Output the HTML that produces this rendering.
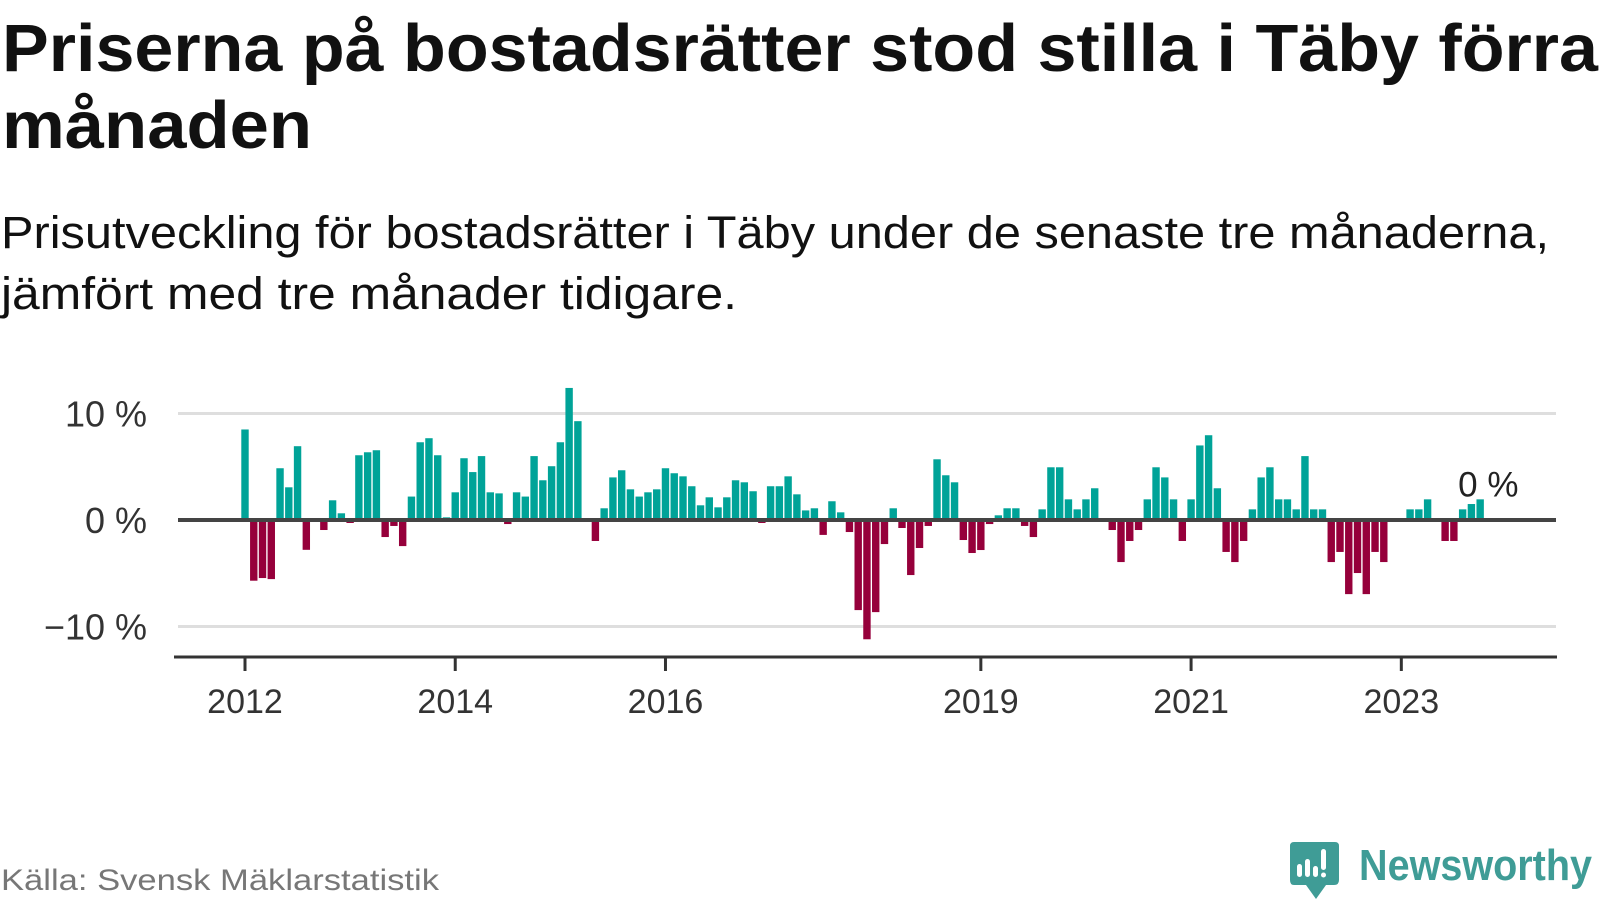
<!DOCTYPE html>
<html><head><meta charset="utf-8"><style>
html,body{margin:0;padding:0;background:#fff;width:1600px;height:900px;overflow:hidden}
svg{display:block}
text{font-family:"Liberation Sans",sans-serif}
</style></head><body>
<svg id="chart" width="1600" height="900" viewBox="0 0 1600 900">
<text x="2" y="71" font-size="67" font-weight="bold" fill="#111" textLength="1596" lengthAdjust="spacingAndGlyphs">Priserna på bostadsrätter stod stilla i Täby förra</text>
<text x="2" y="148" font-size="67" font-weight="bold" fill="#111" textLength="310" lengthAdjust="spacingAndGlyphs">månaden</text>
<text x="1" y="248" font-size="45" fill="#111" textLength="1548" lengthAdjust="spacingAndGlyphs">Prisutveckling för bostadsrätter i Täby under de senaste tre månaderna,</text>
<text x="1" y="309" font-size="45" fill="#111" textLength="736" lengthAdjust="spacingAndGlyphs">jämfört med tre månader tidigare.</text>
<g id="grid"></g>
<g id="bars"></g>
<g id="axes"></g>
<text x="1" y="890" font-size="30" fill="#777" textLength="438" lengthAdjust="spacingAndGlyphs">Källa: Svensk Mäklarstatistik</text>
<g>
<path d="M1294 842 H1335 Q1339 842 1339 846 V880 Q1339 885 1334 885 H1326 L1316 899 L1306 885 H1294 Q1290 885 1290 880 V846 Q1290 842 1294 842 Z" fill="#3f9c96"/>
<rect x="1297" y="864" width="5" height="13" rx="2.5" fill="#fff"/>
<rect x="1305" y="859" width="5" height="18" rx="2.5" fill="#fff"/>
<rect x="1313" y="866" width="5" height="11" rx="2.5" fill="#fff"/>
<rect x="1321" y="849" width="5" height="21" rx="2.5" fill="#fff"/>
<circle cx="1323.5" cy="875" r="2.5" fill="#fff"/>
<text x="1359" y="880" font-size="44" font-weight="bold" fill="#3f9c96" textLength="233" lengthAdjust="spacingAndGlyphs">Newsworthy</text>
</g>
</svg>
<script>
const startYear = 2012;
const values = [8.5,-5.7,-5.45,-5.55,4.86,3.07,6.93,-2.8,0,-0.94,1.85,0.63,-0.28,6.08,6.36,6.55,-1.6,-0.56,-2.45,2.2,7.3,7.68,6.08,0.25,2.6,5.8,4.5,6.0,2.6,2.5,-0.38,2.6,2.2,6.0,3.73,5.05,7.3,12.4,9.28,0,-1.97,1.1,4.0,4.67,2.88,2.2,2.6,2.88,4.86,4.39,4.1,3.17,1.38,2.13,1.19,2.13,3.73,3.54,2.7,-0.28,3.17,3.17,4.1,2.41,0.9,1.1,-1.4,1.76,0.72,-1.13,-8.46,-11.2,-8.65,-2.26,1.1,-0.75,-5.17,-2.63,-0.56,5.7,4.2,3.54,-1.88,-3.1,-2.82,-0.38,0.44,1.1,1.1,-0.56,-1.6,1.0,4.95,4.95,1.94,1.0,1.94,2.98,0,-0.94,-3.95,-1.97,-0.94,1.94,4.95,4.0,1.94,-1.97,1.94,7.0,7.96,2.98,-3.0,-3.95,-1.97,1.0,4.0,4.95,1.94,1.94,1.0,6.0,1.0,1.0,-3.95,-3.0,-6.96,-4.98,-6.96,-3.0,-3.95,0,0,1.0,1.0,1.94,0,-1.97,-1.97,1.0,1.5,1.94];
const yTicks = [10,0,-10];
const yTickLabels = ["10 %","0 %","\u221210 %"];
const xTickYears = [2012,2014,2016,2019,2021,2023];
const lastLabel = "0 %";

const NS = "http://www.w3.org/2000/svg";
const x0 = 245, step = 8.76, y0 = 520, pxPer = 10.65;
const xScale = i => x0 + i * step;
const yScale = v => y0 - v * pxPer;
function mk(tag, attrs, parent){const e=document.createElementNS(NS,tag);for(const k in attrs)e.setAttribute(k,attrs[k]);parent.appendChild(e);return e;}
const grid=document.getElementById('grid'), bars=document.getElementById('bars'), axes=document.getElementById('axes');
yTicks.forEach((t,k)=>{
  if(t!==0){
    const l=mk('line',{x1:178,x2:1556,y1:yScale(t),y2:yScale(t),stroke:'#dedede','stroke-width':3},grid);
    
    
  }
  const tx=mk('text',{x:147,y:yScale(t)+13,'font-size':36,fill:'#333','text-anchor':'end'},axes);
  tx.textContent=yTickLabels[k];
  
  
});
values.forEach((v,i)=>{
  const y=Math.min(yScale(v),y0), h=Math.abs(yScale(v)-y0);
  const r=mk('rect',{x:xScale(i)-3.7,y:y,width:7.4,height:h,fill:v>=0?'#00a398':'#96003b'},bars);
  
  
});
const zl=mk('line',{x1:178,x2:1556,y1:y0,y2:y0,stroke:'#444','stroke-width':4},axes);


const xa=mk('line',{x1:174,x2:1557,y1:657,y2:657,stroke:'#333','stroke-width':3},axes);


xTickYears.forEach(yr=>{
  const x=xScale((yr-startYear)*12);
  const tk=mk('line',{x1:x,x2:x,y1:657,y2:671,stroke:'#333','stroke-width':3},axes);
  
  
  const tx=mk('text',{x:x,y:713,'font-size':34,fill:'#333','text-anchor':'middle'},axes);
  tx.textContent=String(yr);
  
  
});
const li=values.length-1;
const al=mk('text',{x:xScale(li)-22,y:Math.min(yScale(values[li]),y0)-3,'font-size':35,fill:'#222'},axes);
al.textContent=lastLabel;


</script>
</body></html>
